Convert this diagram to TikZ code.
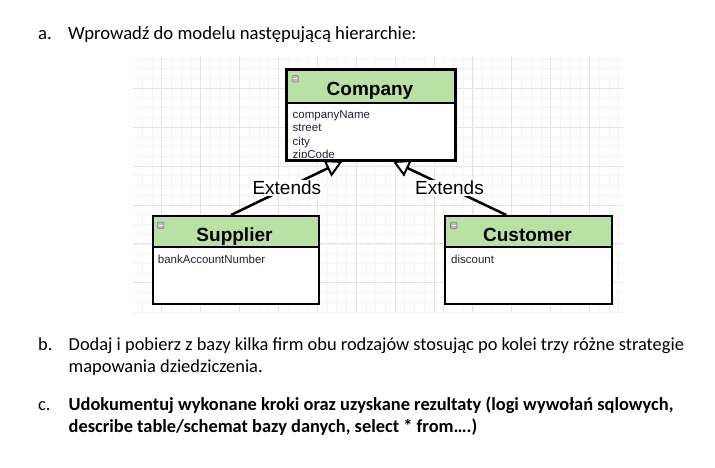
\documentclass[tikz,border=0pt]{standalone}
\usepackage{fontspec}
\setmainfont{Carlito}
\newfontfamily\arial{Liberation Sans}
\usetikzlibrary{arrows.meta}
\definecolor{hdr}{HTML}{B9E0A5}
\definecolor{attr}{HTML}{22223F}
\definecolor{gmaj}{HTML}{E4E4E4}
\definecolor{gmin}{HTML}{F4F4F4}
\definecolor{iconfill}{HTML}{B8B8B8}
\tikzset{
  umlbody/.style={draw=black, line width=2, fill=white, inner sep=0, anchor=north west},
  umlhead/.style={draw=black, line width=2, fill=hdr, inner sep=0, anchor=north west},
  umltitle/.style={font=\arial\bfseries\fontsize{19}{19}\selectfont, anchor=base, inner sep=0},
  umlattr/.style={font=\arial\fontsize{11.5}{13.4}\selectfont, text=attr, anchor=base west, inner sep=0},
  umlicon/.style={draw=gray, line width=0.6, fill=iconfill, rounded corners=1, minimum size=6.5, inner sep=0, anchor=north west},
  edge/.style={draw=black, line width=2.5, -{Triangle[length=17, width=18, fill=white, line width=2]}},
  lbl/.style={fill=white, font=\arial\fontsize{19}{19}\selectfont, inner sep=1.5},
  txta/.style={font=\fontsize{18.7}{18.7}\selectfont, anchor=base west, inner sep=0},
  txtb/.style={font=\fontsize{18.4}{18.4}\selectfont, anchor=base west, inner sep=0},
  txtc/.style={font=\bfseries\fontsize{18.4}{18.4}\selectfont, anchor=base west, inner sep=0},
}
\begin{document}
\begin{tikzpicture}[x=1pt, y=-1pt]
\useasboundingbox (0,0) rectangle (715,468);
\fill[white] (0,0) rectangle (715,468);
% grid background
\begin{scope}
\clip (133,56) rectangle (623,312);
\foreach \i in {-3,...,47} {\draw[gmin, line width=0.7] ({161.7+9.725*\i},56) -- ({161.7+9.725*\i},312);}
\foreach \j in {-3,...,23} {\draw[gmin, line width=0.7] (133,{88.3+9.725*\j}) -- (623,{88.3+9.725*\j});}
\foreach \i in {0,...,11} {\draw[gmaj, line width=0.9] ({161.7+38.9*\i},56) -- ({161.7+38.9*\i},312);}
\foreach \j in {0,...,5} {\draw[gmaj, line width=0.9] (133,{88.3+38.9*\j}) -- (623,{88.3+38.9*\j});}
\end{scope}

% Company
\node[umlbody, minimum width=168, minimum height=90] (company) at (286,69) {};
\begin{scope}
\clip (287,101) rectangle (453,158);
\node[umlattr] (cattr1) at (292.5,118.3) {companyName};
\node[umlattr] (cattr2) at (292.5,131.7) {street};
\node[umlattr] (cattr3) at (292.5,145.1) {city};
\node[umlattr] (cattr4) at (292.5,158.5) {zipCode};
\end{scope}
\draw[line width=2] (company.north west) rectangle (company.south east);
\node[umlhead, minimum width=168, minimum height=33] (companyhead) at (286,69) {};
\node[umltitle] (companytitle) at (370,96) {Company};
\node[umlicon] (companyicon) at (291.8,75.3) {};
\draw[white, line width=1] ([xshift=1.5,yshift=-3.25]companyicon.north west) -- ([xshift=-1.5,yshift=-3.25]companyicon.north east);

% Supplier
\node[umlbody, minimum width=166, minimum height=88] (supplier) at (151.5,215) {};
\node[umlhead, minimum width=166, minimum height=31] (supplierhead) at (151.5,215) {};
\node[umltitle] (suppliertitle) at (234.5,241.7) {Supplier};
\node[umlattr] (sattr1) at (157.7,263) {bankAccountNumber};
\node[umlicon] (suppliericon) at (157,221.8) {};
\draw[white, line width=1] ([xshift=1.5,yshift=-3.25]suppliericon.north west) -- ([xshift=-1.5,yshift=-3.25]suppliericon.north east);

% Customer
\node[umlbody, minimum width=166.5, minimum height=88] (customer) at (444.3,215) {};
\node[umlhead, minimum width=166.5, minimum height=31] (customerhead) at (444.3,215) {};
\node[umltitle] (customertitle) at (527.5,241.7) {Customer};
\node[umlattr] (cuattr1) at (451,263) {discount};
\node[umlicon] (customericon) at (450.2,221.8) {};
\draw[white, line width=1] ([xshift=1.5,yshift=-3.25]customericon.north west) -- ([xshift=-1.5,yshift=-3.25]customericon.north east);

% Inheritance connectors
\draw[edge] ([xshift=-4.5]supplier.north) -- node[lbl] (ext1) {Extends} ([xshift=-28.3]company.south);
\draw[edge] ([xshift=-22.3]customer.north) -- node[lbl] (ext2) {Extends} ([xshift=21.7]company.south);

% Texts
\node[txta] (la) at (38,39.3) {a.};
\node[txta] (ta) at (68,39.3) {Wprowadź do modelu następującą hierarchie:};
\node[txtb] (lb) at (38,350.5) {b.};
\node[txtb] (tb1) at (68.5,350.5) {Dodaj i pobierz z bazy kilka firm obu rodzajów stosując po kolei trzy różne strategie};
\node[txtb] (tb2) at (68.5,372.5) {mapowania dziedziczenia.};
\node[txtb] (lc) at (38,410.5) {c.};
\node[txtc] (tc1) at (68.5,410.5) {Udokumentuj wykonane kroki oraz uzyskane rezultaty (logi wywołań sqlowych,};
\node[txtc] (tc2) at (68.5,432.5) {describe table/schemat bazy danych, select * from….)};
\end{tikzpicture}
\end{document}
